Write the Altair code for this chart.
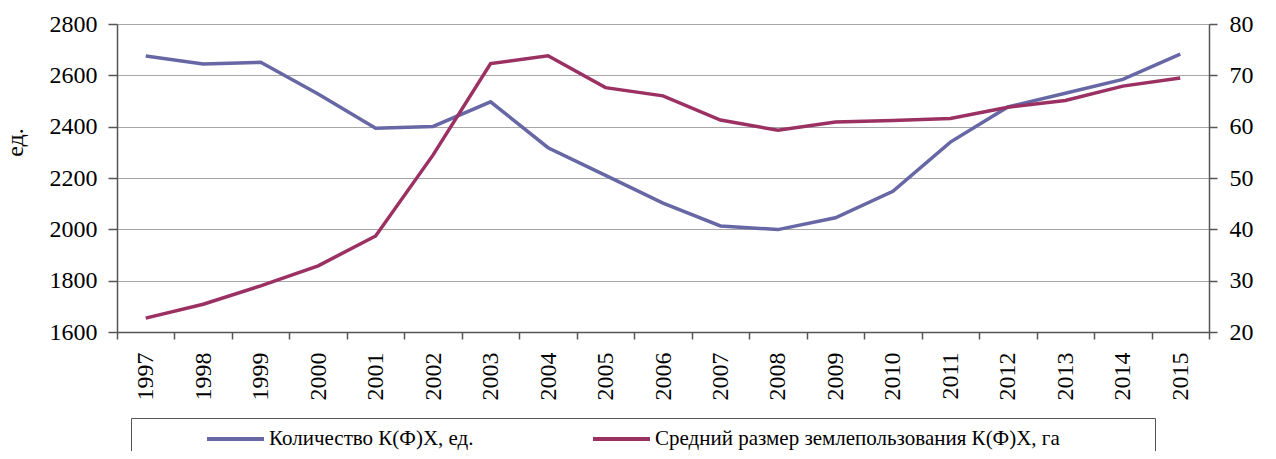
import altair as alt
import pandas as pd

years = [str(y) for y in range(1997, 2016)]
count_kfh = [2675, 2644, 2651, 2527, 2394, 2401, 2497, 2318, 2210, 2102, 2013, 1999, 2045, 2148, 2340, 2477, 2530, 2584, 2683]
avg_area = [22.7, 25.4, 29.0, 32.9, 38.7, 54.5, 72.3, 73.8, 67.6, 66.0, 61.3, 59.3, 60.9, 61.2, 61.6, 63.8, 65.1, 67.9, 69.5]
series_names = ["Количество К(Ф)Х, ед.", "Средний размер землепользования К(Ф)Х, га"]
series_colors = ["#6667A4", "#9B3062"]

df_count = pd.DataFrame({"year": years, "value": count_kfh, "series": series_names[0]})
df_area = pd.DataFrame({"year": years, "value": avg_area, "series": series_names[1]})

FONT = "Liberation Serif"

x_enc = alt.X(
    "year:O",
    bandPosition=0.5,
    scale=alt.Scale(type="band", paddingInner=0, paddingOuter=0),
    axis=alt.Axis(
        title=None, labelAngle=-90, tickBand="extent", tickSize=7,
        labelPadding=13, grid=False, labelFont=FONT,
    ),
)

color_enc = alt.Color(
    "series:N",
    scale=alt.Scale(domain=series_names, range=series_colors),
    legend=alt.Legend(
        title=".", titleOrient="right", titlePadding=85, titleColor="#ffffff",
        titleFontSize=21,
        orient="none", direction="horizontal",
        legendX=14, legendY=394, padding=4, clipHeight=34,
        symbolType="stroke", symbolSize=3249, symbolStrokeWidth=4,
        symbolOffset=70, columnPadding=47, labelOffset=3, labelLimit=800,
        labelFont=FONT, labelFontSize=21, labelColor="#000000",
        strokeColor="#555555", fillColor="#ffffff",
    ),
)

left = alt.Chart(df_count).mark_line(strokeWidth=3.5).encode(
    x=x_enc,
    y=alt.Y(
        "value:Q",
        scale=alt.Scale(domain=[1600, 2800], nice=False, zero=False),
        axis=alt.Axis(
            title="ед.", values=[1600, 1800, 2000, 2200, 2400, 2600, 2800], format="d",
            orient="left", tickSize=9, labelPadding=11, grid=True,
            gridColor="#a6a6a6", gridWidth=1.2, labelFont=FONT,
            titleX=-90, titleY=118,
        ),
    ),
    color=color_enc,
)

right = alt.Chart(df_area).mark_line(strokeWidth=3.5).encode(
    x=x_enc,
    y=alt.Y(
        "value:Q",
        scale=alt.Scale(domain=[20, 80], nice=False, zero=False),
        axis=alt.Axis(
            title="га", values=[20, 30, 40, 50, 60, 70, 80], format="d",
            orient="right", tickSize=8, labelPadding=12, grid=False,
            titlePadding=10, labelFont=FONT,
        ),
    ),
    color=color_enc,
)

chart = alt.layer(left, right).resolve_scale(y="independent").properties(
    width=1092, height=308,
    autosize=alt.AutoSizeParams(type="none"),
    padding={"left": 109, "top": 16, "right": 59, "bottom": 119},
).configure(
    font=FONT,
    style={"guide-label": {"font": FONT}, "guide-title": {"font": FONT}},
).configure_view(stroke=None).configure_axis(
    labelFont=FONT, labelFontSize=24, labelColor="#000000",
    titleFont=FONT, titleFontSize=24, titleFontWeight="normal", titleColor="#000000",
    domainColor="#555555", tickColor="#555555", domainWidth=1.5, tickWidth=1.5,
).configure_legend(
    labelFont=FONT, labelFontSize=21, labelColor="#000000", titleFont=FONT,
)

chart.save("out.html", embed_options={"renderer": "svg", "actions": False})
